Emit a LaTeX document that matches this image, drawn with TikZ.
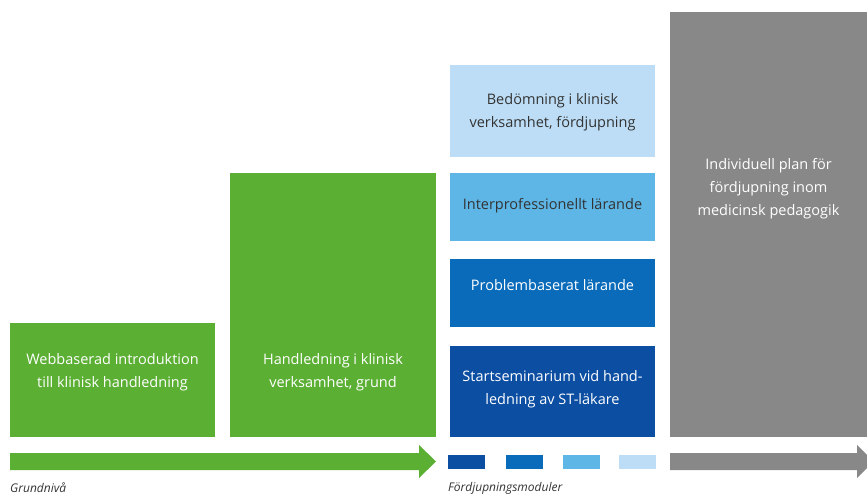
\documentclass[tikz,border=0pt]{standalone}
\usepackage{fontspec}
\setmainfont{Open Sans}
\definecolor{grn}{HTML}{5BAF33}
\definecolor{lb}{HTML}{BCDDF5}
\definecolor{mb}{HTML}{5DB6E6}
\definecolor{bl}{HTML}{0A6BBA}
\definecolor{db}{HTML}{0B4EA2}
\definecolor{gr}{HTML}{888888}
\definecolor{txt}{HTML}{333333}
\begin{document}
\begin{tikzpicture}[x=1pt,y=-1pt,
  box/.style={rectangle,inner sep=0pt,outer sep=0pt,anchor=north west,draw=none},
  lbl/.style={align=center,font=\fontsize{14.5}{23}\selectfont,inner sep=0pt},
  captxt/.style={font=\fontsize{12}{14}\selectfont\itshape,text=txt,anchor=west,inner sep=0pt}]
\useasboundingbox (0,0) rectangle (867,495);
% boxes
\node[box,fill=grn,minimum width=205pt,minimum height=114pt] (web) at (10,323) {};
\node[box,fill=grn,minimum width=206pt,minimum height=264pt] (hand) at (230,173) {};
\node[box,fill=lb,minimum width=205pt,minimum height=92pt] (bed) at (450,65) {};
\node[box,fill=mb,minimum width=205pt,minimum height=68pt] (inter) at (450,173) {};
\node[box,fill=bl,minimum width=205pt,minimum height=68pt] (prob) at (450,259) {};
\node[box,fill=db,minimum width=205pt,minimum height=91pt] (start) at (450,346) {};
\node[box,fill=gr,minimum width=197pt,minimum height=425pt] (ind) at (670,12) {};
% texts
\node[lbl,text=white] (webt) at (112.5,372.5) {Webbaserad introduktion\\till klinisk handledning};
\node[lbl,text=white] (handt) at (333,372.5) {Handledning i klinisk\\verksamhet, grund};
\node[lbl,text=txt] (bedt) at (552.5,112.5) {Bedömning i klinisk\\verksamhet, fördjupning};
\node[lbl,text=txt] (intert) at (552.5,206) {Interprofessionellt lärande};
\node[lbl,text=white] (probt) at (552.5,285) {Problembaserat lärande};
\node[lbl,text=white] (startt) at (552.5,389.5) {Startseminarium vid hand-\\ledning av ST-läkare};
\node[lbl,text=white] (indt) at (768.5,188.5) {Individuell plan för\\fördjupning inom\\medicinsk pedagogik};
% arrows
\fill[grn] (10,453) -- (419,453) -- (419,445) -- (436,461.5) -- (419,478) -- (419,470) -- (10,470) -- cycle;
\fill[gr] (670,453) -- (857,453) -- (857,445) -- (867,455) -- (867,468) -- (857,478) -- (857,470) -- (670,470) -- cycle;
% module squares
\node[box,fill=db,minimum width=37pt,minimum height=14pt] (sq1) at (448,455) {};
\node[box,fill=bl,minimum width=37pt,minimum height=14pt] (sq2) at (506,455) {};
\node[box,fill=mb,minimum width=37pt,minimum height=14pt] (sq3) at (563,455) {};
\node[box,fill=lb,minimum width=37pt,minimum height=14pt] (sq4) at (619,455) {};
% captions
\node[captxt] (grund) at (10,488) {Grundnivå};
\node[captxt] (ford) at (448,488) {Fördjupningsmoduler};
\end{tikzpicture}
\end{document}
